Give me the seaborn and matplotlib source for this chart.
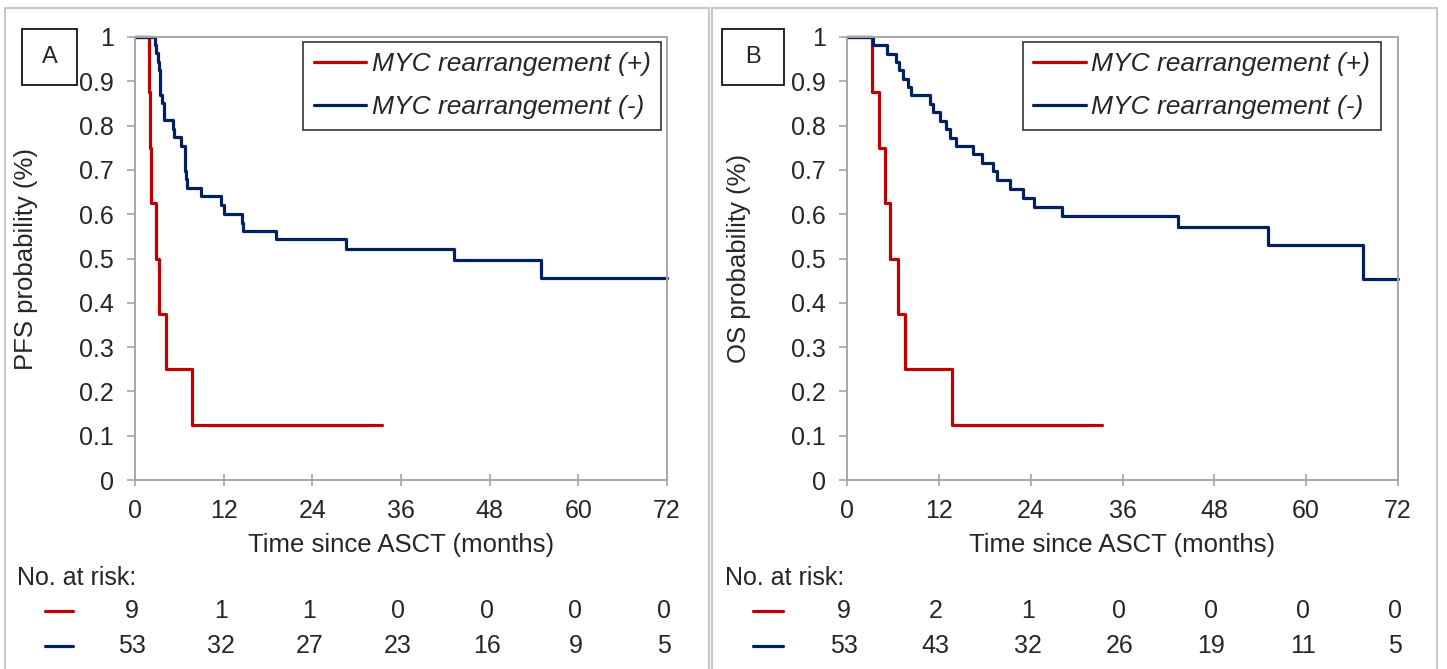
import matplotlib
matplotlib.use("Agg")
import matplotlib.pyplot as plt
import seaborn as sns
import pandas as pd
from matplotlib.patches import Rectangle

# x ticks (months)
month_ticks = [0, 12, 24, 36, 48, 60, 72]
prob_ticks = [0, 0.1, 0.2, 0.3, 0.4, 0.5, 0.6, 0.7, 0.8, 0.9, 1]

group_pos = "MYC rearrangement (+)"
group_neg = "MYC rearrangement (-)"

# panel A - PFS
pfs_pos_time = [0, 1.9, 2.0, 2.1, 2.85, 3.3, 4.2, 7.7, 33.4]
pfs_pos_surv = [1.0, 0.875, 0.75, 0.625, 0.5, 0.375, 0.25, 0.125, 0.125]
pfs_neg_time = [0, 2.7, 2.85, 3.15, 3.3, 3.35, 3.38, 3.4, 3.6, 3.9, 3.95, 5.2, 5.25,
                6.2, 6.75, 6.78, 6.8, 6.9, 7.07, 8.9, 11.7, 12.0, 14.5, 14.6, 19.05,
                28.6, 43.2, 55.0, 72]
pfs_neg_surv = [1.0, 0.981, 0.963, 0.944, 0.925, 0.906, 0.887, 0.869, 0.850, 0.831,
                0.812, 0.793, 0.774, 0.755, 0.736, 0.717, 0.698, 0.679, 0.660, 0.640,
                0.620, 0.600, 0.580, 0.562, 0.543, 0.522, 0.496, 0.455, 0.455]
pfs_risk_pos = [9, 1, 1, 0, 0, 0, 0]
pfs_risk_neg = [53, 32, 27, 23, 16, 9, 5]

# panel B - OS
os_pos_time = [0, 3.3, 4.2, 5.0, 5.6, 6.6, 7.6, 13.7, 33.3]
os_pos_surv = [1.0, 0.875, 0.75, 0.625, 0.5, 0.375, 0.25, 0.125, 0.125]
os_neg_time = [0, 3.4, 5.2, 6.4, 6.8, 7.3, 8.0, 8.3, 10.85, 11.3, 12.1, 12.9, 13.4,
               14.3, 16.4, 17.6, 19.1, 19.6, 21.3, 23.0, 24.5, 28.1, 43.2, 55.0, 67.4, 72]
os_neg_surv = [1.0, 0.981, 0.962, 0.943, 0.925, 0.906, 0.887, 0.868, 0.849, 0.830,
               0.811, 0.792, 0.773, 0.755, 0.735, 0.716, 0.697, 0.678, 0.657, 0.637,
               0.617, 0.596, 0.570, 0.530, 0.454, 0.454]
os_risk_pos = [9, 2, 1, 0, 0, 0, 0]
os_risk_neg = [53, 43, 32, 26, 19, 11, 5]

RED = "#C00000"
BLUE = "#002060"
GREY = "#A6A6A6"
FS = 18

sns.set_theme(style="white")
plt.rcParams["font.family"] = ["Liberation Sans", "DejaVu Sans"]

W, H = 1447, 669
fig = plt.figure(figsize=(W / 100, H / 100), dpi=100)


def km_panel(rect, letter, letter_box, frame_x, ylabel, ylabel_x,
             t_pos, s_pos, t_neg, s_neg, risk_pos, risk_neg, legend_x):
    left, right = rect
    ax = fig.add_axes([left / W, 1 - 480 / H, (right - left) / W, 443 / H])
    df = pd.concat([
        pd.DataFrame({"time": t_pos, "surv": s_pos, "group": group_pos}),
        pd.DataFrame({"time": t_neg, "surv": s_neg, "group": group_neg}),
    ])
    sns.lineplot(data=df, x="time", y="surv", hue="group", hue_order=[group_pos, group_neg],
                 palette={group_pos: RED, group_neg: BLUE}, estimator=None,
                 drawstyle="steps-post", lw=2.3, legend=False, ax=ax, clip_on=False)
    ax.set_xlim(0, 72)
    ax.set_ylim(0, 1)
    ax.set_xticks(month_ticks)
    ax.set_yticks(prob_ticks)
    ax.set_yticklabels([f"{v:g}" for v in prob_ticks])
    for sp in ax.spines.values():
        sp.set_color(GREY)
        sp.set_linewidth(1.4)
    ax.tick_params(axis="y", direction="out", length=6, width=1.2, color=GREY,
                   labelsize=FS, pad=9, left=True)
    ax.tick_params(axis="x", direction="inout", length=8, width=1.2, color=GREY,
                   labelsize=FS, pad=10, bottom=True)
    ax.set_xlabel("Time since ASCT (months)", fontsize=FS + 0.5)
    ax.xaxis.set_label_coords(0.5, -0.12)
    ax.set_ylabel(ylabel, fontsize=FS + 0.5)
    ax.yaxis.set_label_coords((ylabel_x - left) / (right - left), 0.5)

    leg = ax.legend(ax.lines[:2], [group_pos, group_neg], loc="upper right",
                    bbox_to_anchor=(legend_x, 0.989), borderaxespad=0, frameon=True,
                    fancybox=False, edgecolor="black", prop={"style": "italic", "size": 19},
                    handlelength=2.0, handletextpad=0.2, labelspacing=0.72, borderpad=0.4)
    leg.get_frame().set_linewidth(1.2)

    # number at risk table
    tr = ax.get_xaxis_transform()
    ax.text(-0.222, -0.221, "No. at risk:", transform=ax.transAxes, ha="left",
            va="center", fontsize=FS)
    for yy, risk, col in [(-0.296, risk_pos, RED), (-0.374, risk_neg, BLUE)]:
        ax.plot([-0.17, -0.117], [yy, yy], transform=ax.transAxes, color=col,
                lw=2.3, clip_on=False)
        for m, n in zip(month_ticks, risk):
            ax.text(m - 0.4, yy, str(n), transform=tr, ha="center", va="center", fontsize=FS)

    # panel frame and letter box
    fx0, fx1 = frame_x
    fig.add_artist(Rectangle((fx0 / W, -0.05), (fx1 - fx0) / W, 1.05 - 8 / H,
                             transform=fig.transFigure, fill=False, ec="#C8C8C8", lw=1.5))
    bx0, bx1 = letter_box
    fig.add_artist(Rectangle((bx0 / W, 1 - 85 / H), (bx1 - bx0) / W, 56 / H,
                             transform=fig.transFigure, fill=False, ec="black", lw=1.2))
    fig.text((bx0 + bx1) / 2 / W, 1 - 57 / H, letter, ha="center", va="center", fontsize=17)
    return ax


km_panel((135, 667), "A", (22, 77), (5, 709), "PFS probability (%)", 38,
         pfs_pos_time, pfs_pos_surv, pfs_neg_time, pfs_neg_surv,
         pfs_risk_pos, pfs_risk_neg, 0.989)
km_panel((847, 1398), "B", (722, 784), (712, 1437), "OS probability (%)", 751,
         os_pos_time, os_pos_surv, os_neg_time, os_neg_surv,
         os_risk_pos, os_risk_neg, 0.969)

fig.savefig("out.png", dpi=100)
